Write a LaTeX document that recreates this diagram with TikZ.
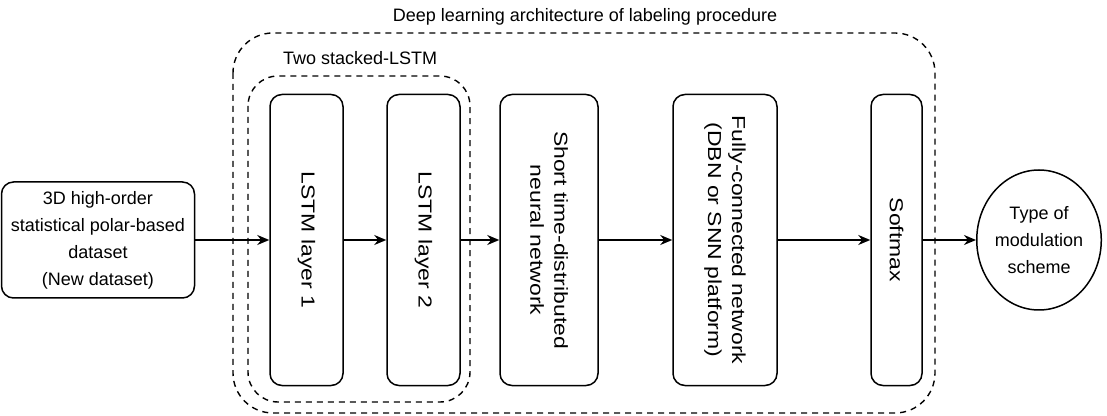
\documentclass[tikz,border=0pt]{standalone}
\usepackage{fontspec}
\setmainfont{Liberation Sans}
\newfontfamily\widefont[FakeStretch=1.22]{Liberation Sans}
\usepackage{tikz}
\usetikzlibrary{arrows.meta,positioning,shapes.geometric}

\begin{document}
\begin{tikzpicture}[
  x=0.5pt,y=-0.5pt,
  font=\fontsize{9}{13.5}\selectfont,
  box/.style={draw,line width=0.75pt,rounded corners=6pt,align=center,inner sep=2pt},
  layer/.style={box,rotate=-90,minimum width=145.5pt,font=\widefont\fontsize{9.4}{12}\selectfont},
  group/.style={draw,dashed,dash pattern=on 3pt off 2.5pt,line width=0.7pt},
  arrow/.style={-{Stealth[length=6pt,width=5pt]},line width=0.8pt}
]
\useasboundingbox (0,0) rectangle (1107,416);
% frames
\draw[group,rounded corners=20pt] (233,33) rectangle (935,413);
\draw[group,rounded corners=15pt] (248,76) rectangle (470,402);
\node (title) at (585,17) {Deep learning architecture of labeling procedure};
\node[anchor=west] (stacklabel) at (276,58) {Two stacked-LSTM};
% blocks
\node[box,minimum width=96.5pt,minimum height=58pt] (input) at (98,240)
  {3D high-order\\statistical polar-based\\dataset\\(New dataset)};
\node[layer,minimum height=36.5pt] (lstm1) at (306.5,240) {LSTM layer 1};
\node[layer,minimum height=36.5pt] (lstm2) at (423.5,240) {LSTM layer 2};
\node[layer,minimum height=49pt] (tdnn) at (549,240) {Short time-distributed\\neural network};
\node[layer,minimum height=52pt] (fcn) at (725,240) {Fully-connected network\\(DBN or SNN platform)};
\node[layer,minimum height=25.5pt] (softmax) at (896.5,240) {Softmax};
\node[draw,ellipse,line width=0.75pt,minimum width=59pt,minimum height=70pt,inner sep=0pt,align=center]
  (output) at (1039,240) {Type of\\modulation\\scheme};
% connectors
\draw[arrow] (input) -- (lstm1);
\draw[arrow] (lstm1) -- (lstm2);
\draw[arrow] (lstm2) -- (tdnn);
\draw[arrow] (tdnn) -- (fcn);
\draw[arrow] (fcn) -- (softmax);
\draw[arrow] (softmax) -- (output);
\end{tikzpicture}
\end{document}
